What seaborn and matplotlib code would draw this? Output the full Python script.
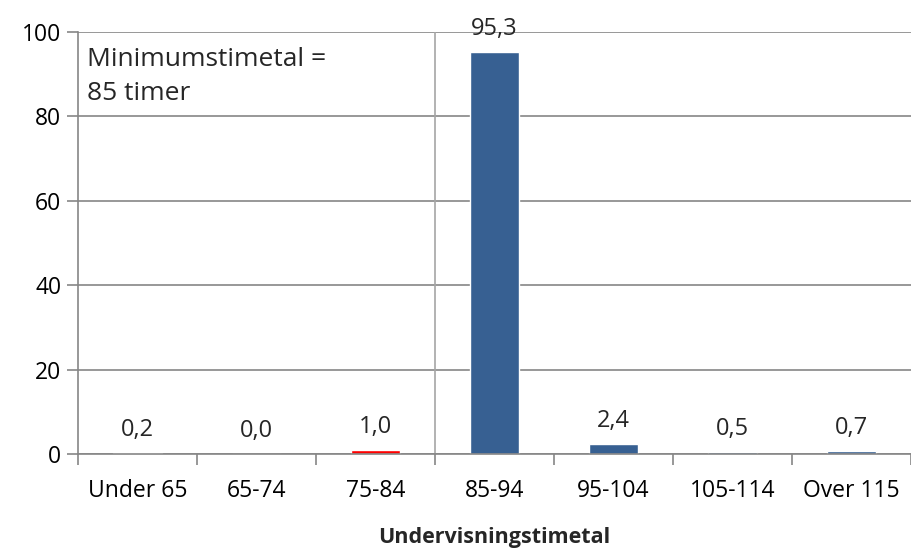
"""Undervisningstimetal — søjlediagram med seaborn."""

import matplotlib
matplotlib.use("Agg")
import matplotlib.pyplot as plt
import seaborn as sns
import numpy as np
import pandas as pd

categories = ["Under 65", "65-74", "75-84", "85-94", "95-104", "105-114", "Over 115"]
values = [0.2, 0.0, 1.0, 95.3, 2.4, 0.5, 0.7]
colors = ["#FF0000", "#FF0000", "#FF0000", "#376092", "#376092", "#376092", "#376092"]
y_ticks = [0, 20, 40, 60, 80, 100]

sns.set_theme(style="white")
plt.rcParams["font.family"] = ["Open Sans", "DejaVu Sans"]

df = pd.DataFrame({"kategori": categories, "andel": values})

fig, ax = plt.subplots(figsize=(9.12, 5.49), dpi=100)
fig.subplots_adjust(left=0.0855, right=0.999, top=0.942, bottom=0.173)

sns.barplot(data=df, x="kategori", y="andel", hue="kategori",
            palette=colors, saturation=1, legend=False, width=0.41, ax=ax)

ax.set_ylim(0, 100)
ax.set_xlim(-0.5, len(categories) - 0.5)
ax.set_yticks(y_ticks)
ax.yaxis.grid(True, color="#868686", linewidth=1.2)
ax.set_axisbelow(True)

for side in ["top", "right"]:
    ax.spines[side].set_visible(False)
ax.spines["left"].set_color("#868686")
ax.spines["bottom"].set_color("#868686")
ax.spines["left"].set_linewidth(1.2)
ax.spines["bottom"].set_linewidth(1.2)

# kategorigrænser som tick-mærker
ax.set_xticks(np.arange(-0.5, len(categories)), minor=True)
ax.tick_params(axis="x", which="minor", length=8, color="#868686", width=1.2, bottom=True)
ax.tick_params(axis="x", which="major", length=0, pad=18, labelsize=16.5, colors="black")
ax.tick_params(axis="y", length=8, color="#868686", width=1.2, left=True,
               labelsize=16.5, colors="black", pad=4)

# minimumsgrænse
ax.axvline(2.5, color="#A6A6A6", linewidth=1.2)

for container in ax.containers:
    ax.bar_label(container, labels=[f"{v:.1f}".replace(".", ",") for v in container.datavalues],
                 padding=8, fontsize=17)

ax.text(0.011, 0.965, "Minimumstimetal =\n85 timer", transform=ax.transAxes,
        ha="left", va="top", fontsize=19, linespacing=1.5)

ax.set_xlabel("Undervisningstimetal", fontsize=15.5, fontweight="bold", labelpad=17)
ax.set_ylabel("")

plt.savefig("out.png", dpi=100)
plt.close(fig)
